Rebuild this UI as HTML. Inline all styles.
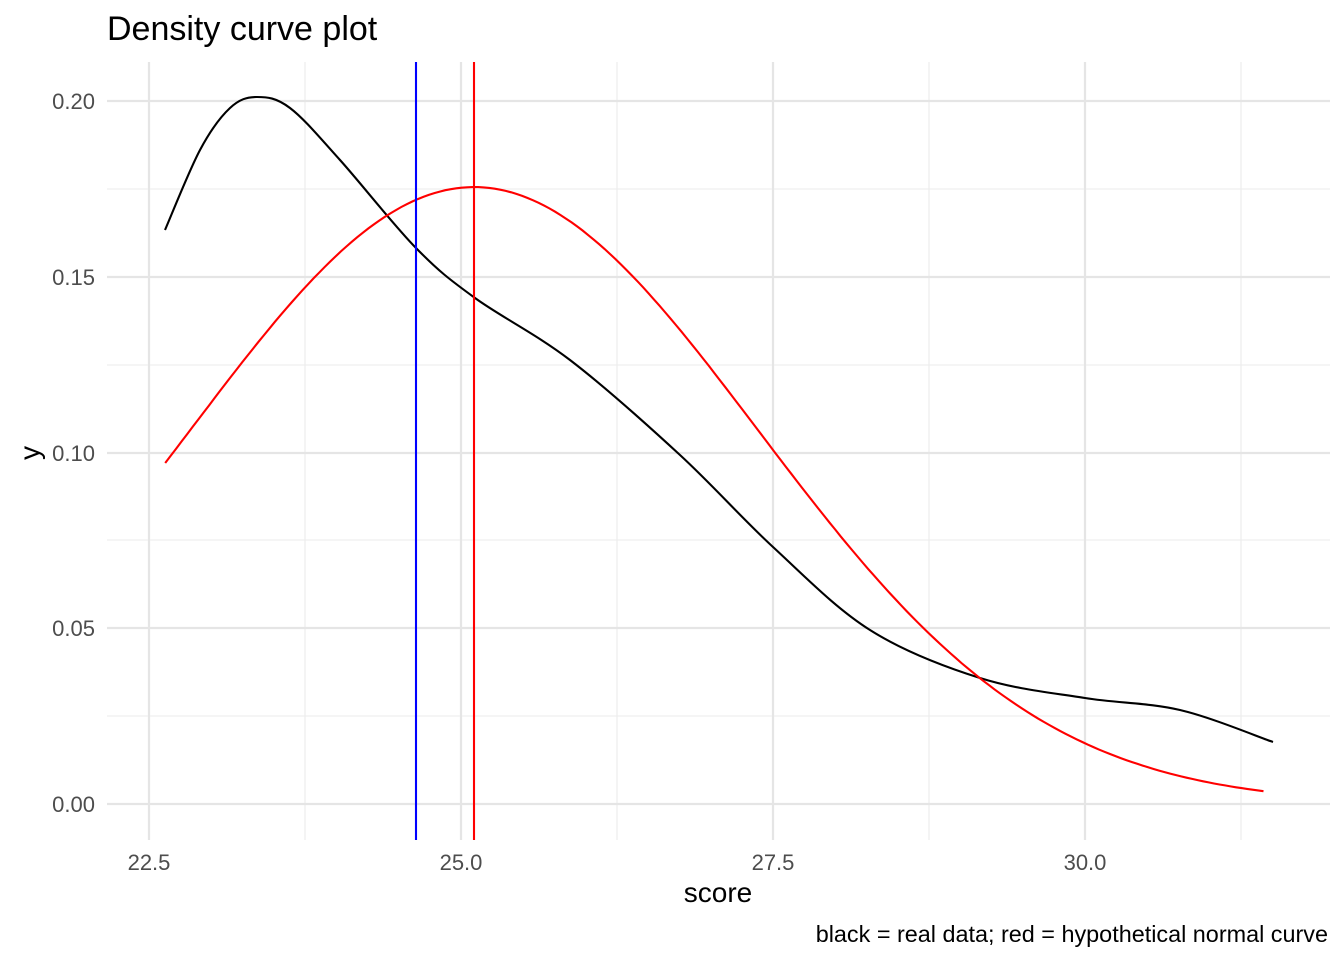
<!DOCTYPE html>
<html><head><meta charset="utf-8"><style>
html,body{margin:0;padding:0;background:#fff;}
svg text{font-family:"Liberation Sans",sans-serif;}
</style></head><body>
<svg id="s" width="1344" height="960" xmlns="http://www.w3.org/2000/svg">
<rect width="1344" height="960" fill="#fff"/>
<g stroke="#ebebeb" stroke-width="1.1">
<line x1="305" y1="62" x2="305" y2="840"/><line x1="617" y1="62" x2="617" y2="840"/>
<line x1="929" y1="62" x2="929" y2="840"/><line x1="1241" y1="62" x2="1241" y2="840"/>
<line x1="107" y1="716" x2="1330" y2="716"/><line x1="107" y1="540" x2="1330" y2="540"/>
<line x1="107" y1="365" x2="1330" y2="365"/><line x1="107" y1="189" x2="1330" y2="189"/>
</g>
<g stroke="#e5e5e5" stroke-width="2.2">
<line x1="149" y1="62" x2="149" y2="840"/><line x1="461" y1="62" x2="461" y2="840"/>
<line x1="773" y1="62" x2="773" y2="840"/><line x1="1085" y1="62" x2="1085" y2="840"/>
<line x1="107" y1="804" x2="1330" y2="804"/><line x1="107" y1="628" x2="1330" y2="628"/>
<line x1="107" y1="453" x2="1330" y2="453"/><line x1="107" y1="277" x2="1330" y2="277"/>
<line x1="107" y1="101" x2="1330" y2="101"/>
</g>
<path id="black" fill="none" stroke="#000" stroke-width="2.1"/>
<path id="red" fill="none" stroke="#ff0000" stroke-width="2.1"/>
<line x1="416" y1="62" x2="416" y2="840" stroke="#0000ff" stroke-width="2.1"/>
<line x1="474" y1="62" x2="474" y2="840" stroke="#ff0000" stroke-width="2.1"/>
<g font-size="22" fill="#4d4d4d" text-anchor="end">
<text x="95" y="812">0.00</text><text x="95" y="636">0.05</text><text x="95" y="461">0.10</text>
<text x="95" y="285">0.15</text><text x="95" y="109">0.20</text>
</g>
<g font-size="22" fill="#4d4d4d" text-anchor="middle">
<text x="149" y="870">22.5</text><text x="461" y="870">25.0</text>
<text x="773" y="870">27.5</text><text x="1085" y="870">30.0</text>
</g>
<text x="718" y="902" font-size="28" text-anchor="middle">score</text>
<text transform="translate(39,453) rotate(-90)" font-size="28" text-anchor="middle">y</text>
<text x="107" y="40" font-size="34">Density curve plot</text>
<text x="1328" y="942" font-size="23.4" text-anchor="end">black = real data; red = hypothetical normal curve</text>
</svg>
<script>
var X=function(v){return 149+(v-22.5)*124.8;},Y=function(d){return 804-d*3515;};
var mu=25.105,sd=2.273,p="";
for(var i=0;i<=200;i++){var v=22.63+(31.43-22.63)*i/200;var d=Math.exp(-0.5*Math.pow((v-mu)/sd,2))/(sd*Math.sqrt(2*Math.PI));p+=(i?"L":"M")+X(v).toFixed(1)+","+Y(d).toFixed(1);}
document.getElementById("red").setAttribute("d",p);
var pts=[[165,230],[200,150],[230,108],[257,97],[290,108],[340,160],[416,248],[475,298],[570,360],[680,455],[773,547],[870,630],[980,678],[1085,698],[1180,710],[1273,742]];
var b="M"+pts[0].join(",");
for(var i=0;i<pts.length-1;i++){var p0=pts[Math.max(i-1,0)],p1=pts[i],p2=pts[i+1],p3=pts[Math.min(i+2,pts.length-1)];
b+="C"+(p1[0]+(p2[0]-p0[0])/6)+","+(p1[1]+(p2[1]-p0[1])/6)+" "+(p2[0]-(p3[0]-p1[0])/6)+","+(p2[1]-(p3[1]-p1[1])/6)+" "+p2[0]+","+p2[1];}
document.getElementById("black").setAttribute("d",b);
</script>
</body></html>
